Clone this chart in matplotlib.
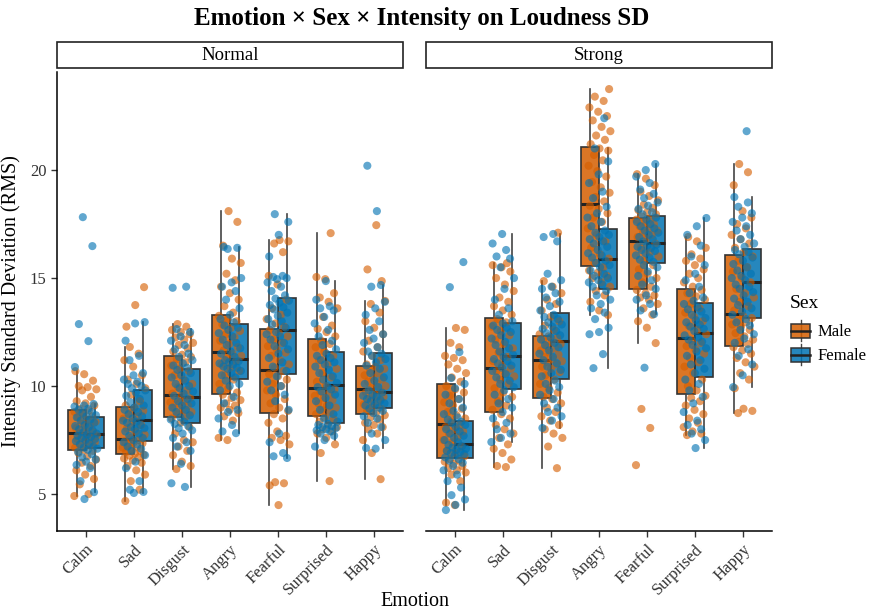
import matplotlib
matplotlib.use('Agg')
import matplotlib.pyplot as plt
import numpy as np
from matplotlib.patches import Rectangle, Patch
from matplotlib.lines import Line2D
from matplotlib.legend_handler import HandlerBase
from matplotlib.colors import to_rgba

plt.rcParams['font.family'] = ['Liberation Serif', 'DejaVu Serif']

emotions = ['Calm', 'Sad', 'Disgust', 'Angry', 'Fearful', 'Surprised', 'Happy']
intensities = ['Normal', 'Strong']
sexes = ['Male', 'Female']
yticks = [5, 10, 15, 20]

# ---- box statistics (per emotion) ----
normal_male_whislo = [4.91, 4.68, 6.16, 7.50, 4.49, 5.60, 5.69]
normal_male_q1     = [7.04, 6.85, 8.56, 9.63, 8.75, 8.61, 8.70]
normal_male_med    = [7.82, 7.55, 9.58, 11.57, 10.74, 9.91, 9.86]
normal_male_q3     = [8.89, 9.03, 11.39, 13.29, 12.64, 12.18, 10.93]
normal_male_whishi = [10.69, 11.81, 12.87, 18.10, 16.76, 17.08, 13.94]

normal_female_whislo = [5.09, 5.05, 5.33, 7.82, 6.67, 7.50, 7.13]
normal_female_q1     = [7.13, 7.45, 8.29, 10.32, 10.56, 8.29, 8.98]
normal_female_med    = [7.78, 8.43, 9.49, 11.25, 12.59, 10.05, 9.72]
normal_female_q3     = [8.56, 9.81, 10.79, 12.87, 14.07, 11.57, 11.53]
normal_female_whishi = [9.17, 12.96, 12.64, 16.44, 17.96, 14.86, 14.68]

strong_male_whislo = [4.49, 6.25, 6.20, 13.29, 11.99, 7.73, 8.75]
strong_male_q1     = [6.67, 8.80, 9.44, 15.56, 14.49, 9.63, 11.85]
strong_male_med    = [8.24, 10.83, 11.20, 18.43, 16.71, 12.22, 13.33]
strong_male_q3     = [10.09, 13.15, 12.31, 21.06, 17.78, 14.49, 16.06]
strong_male_whishi = [12.69, 15.69, 14.86, 23.75, 19.81, 16.90, 20.28]

strong_female_whislo = [4.26, 7.41, 8.06, 10.83, 13.33, 7.13, 9.95]
strong_female_q1     = [6.67, 9.86, 10.32, 14.49, 15.69, 10.42, 13.15]
strong_female_med    = [7.31, 11.39, 12.08, 15.88, 16.62, 12.45, 14.81]
strong_female_q3     = [8.38, 12.92, 13.38, 17.27, 17.87, 13.84, 16.34]
strong_female_whishi = [10.37, 17.04, 17.04, 21.02, 20.28, 17.78, 18.75]

normal_male_calm = [4.91, 5.0, 5.45, 5.7, 5.9, 6.1, 6.3, 6.45, 6.6, 6.75, 6.9, 7.0,
                    7.05, 7.15, 7.25, 7.3, 7.4, 7.45, 7.55, 7.6, 7.65, 7.7, 7.75, 7.8,
                    7.85, 7.95, 8.05, 8.15, 8.25, 8.35, 8.45, 8.55, 8.6, 8.7, 8.8, 8.88,
                    8.95, 9.1, 9.2, 9.3, 9.5, 9.8, 9.85, 9.95, 10.0, 10.25, 10.55, 10.69]
normal_female_calm = [17.82, 16.48, 12.87, 12.08, 10.88, 4.77,
                      5.09, 5.6, 6.2, 6.35, 6.5, 6.6, 6.7, 6.85, 6.95, 7.05, 7.1,
                      7.15, 7.2, 7.3, 7.35, 7.45, 7.5, 7.55, 7.6, 7.65, 7.7, 7.75,
                      7.8, 7.85, 7.95, 8.0, 8.1, 8.15, 8.2, 8.3, 8.4, 8.45, 8.55,
                      8.6, 8.65, 8.75, 8.8, 8.9, 8.95, 9.05, 9.1, 9.17]
normal_male_sad = [4.68, 5.2, 5.6, 5.9, 6.1, 6.3, 6.45, 6.55, 6.65, 6.7, 6.78, 6.82,
                   6.88, 6.95, 7.0, 7.1, 7.15, 7.2, 7.3, 7.35, 7.4, 7.45, 7.5,
                   7.6, 7.75, 7.9, 8.05, 8.2, 8.35, 8.5, 8.6, 8.75, 8.85, 9.0,
                   9.1, 9.3, 9.6, 9.9, 10.1, 10.3, 10.5, 10.9, 11.2, 11.5, 11.81,
                   14.58, 13.75, 12.75]
normal_female_sad = [5.05, 5.1, 5.2, 5.6, 6.2, 6.5, 6.8, 7.0, 7.1, 7.2, 7.3, 7.4,
                     7.5, 7.6, 7.7, 7.8, 7.9, 8.0, 8.05, 8.1, 8.2, 8.3, 8.35, 8.4,
                     8.5, 8.6, 8.7, 8.8, 8.9, 9.0, 9.1, 9.25, 9.4, 9.55, 9.7, 9.8,
                     9.9, 10.0, 10.1, 10.2, 10.3, 10.5, 10.6, 11.2, 11.4, 12.1, 12.9, 12.96]
normal_male_disgust = [6.16, 6.3, 6.5, 6.8, 7.0, 7.2, 7.4, 7.5, 7.8, 8.1, 8.3, 8.5,
                       8.6, 8.7, 8.8, 8.9, 9.0, 9.1, 9.2, 9.25, 9.3, 9.4, 9.45, 9.55,
                       9.65, 9.8, 9.95, 10.1, 10.3, 10.5, 10.7, 10.8, 10.95, 11.1, 11.25, 11.35,
                       11.45, 11.6, 11.75, 11.9, 12.0, 12.15, 12.25, 12.4, 12.5, 12.6, 12.75, 12.87]
normal_female_disgust = [5.33, 5.5, 6.4, 7.0, 7.2, 7.4, 7.6, 7.8, 7.95, 8.05, 8.15, 8.25,
                         8.35, 8.45, 8.55, 8.65, 8.8, 8.9, 9.0, 9.1, 9.2, 9.3, 9.4,
                         9.55, 9.65, 9.75, 9.9, 10.0, 10.1, 10.25, 10.4, 10.5, 10.6, 10.75,
                         10.85, 10.95, 11.05, 11.2, 11.35, 11.5, 11.7, 11.9, 12.1, 12.3, 12.5, 12.64,
                         14.6, 14.55]
normal_male_angry = [7.5, 7.6, 8.4, 8.6, 8.75, 8.9, 9.0, 9.1, 9.2, 9.35, 9.45, 9.6,
                     9.7, 9.9, 10.1, 10.3, 10.5, 10.7, 10.85, 11.0, 11.15, 11.3, 11.4, 11.5,
                     11.65, 11.8, 11.95, 12.1, 12.25, 12.4, 12.55, 12.7, 12.85, 13.0, 13.1, 13.25,
                     13.4, 13.7, 14.0, 14.3, 14.6, 14.9, 15.2, 15.7, 15.9, 16.5, 17.6, 18.1]
normal_female_angry = [7.82, 7.9, 8.2, 8.5, 8.8, 8.9, 9.2, 9.5, 9.8, 10.0, 10.1, 10.25,
                       10.4, 10.5, 10.6, 10.7, 10.8, 10.85, 10.9, 11.0, 11.05, 11.1, 11.15, 11.2,
                       11.35, 11.5, 11.6, 11.75, 11.9, 12.0, 12.15, 12.3, 12.45, 12.6, 12.7, 12.8,
                       12.95, 13.1, 13.3, 13.6, 14.0, 14.4, 14.6, 14.8, 15.0, 16.35, 16.4, 16.44]
normal_male_fearful = [4.49, 5.4, 5.5, 5.55, 7.3, 7.5, 7.6, 7.7, 7.9, 8.3, 8.5, 8.7,
                       8.85, 9.0, 9.2, 9.4, 9.6, 9.8, 10.0, 10.1, 10.3, 10.45, 10.55, 10.7,
                       10.85, 11.0, 11.2, 11.4, 11.55, 11.7, 11.85, 12.0, 12.15, 12.3, 12.45, 12.6,
                       12.75, 12.9, 13.1, 13.3, 13.6, 14.0, 14.7, 15.1, 16.2, 16.6, 16.7, 16.76]
normal_female_fearful = [6.67, 6.75, 6.9, 7.4, 7.8, 8.9, 9.3, 9.6, 9.8, 10.0, 10.2, 10.45,
                         10.7, 10.9, 11.1, 11.3, 11.5, 11.7, 11.85, 12.0, 12.15, 12.3, 12.4, 12.5,
                         12.7, 12.85, 13.0, 13.1, 13.25, 13.4, 13.55, 13.65, 13.75, 13.85, 13.95, 14.05,
                         14.2, 14.4, 14.6, 14.8, 14.95, 15.0, 15.05, 15.1, 16.0, 17.0, 17.6, 17.96]
normal_male_surprised = [5.6, 6.9, 7.3, 7.6, 7.8, 7.9, 8.0, 8.1, 8.2, 8.35, 8.45, 8.55,
                         8.7, 8.8, 8.9, 9.0, 9.1, 9.2, 9.35, 9.45, 9.55, 9.65, 9.75, 9.85,
                         10.0, 10.2, 10.4, 10.6, 10.8, 11.0, 11.2, 11.4, 11.6, 11.8, 11.95, 12.1,
                         12.3, 12.5, 12.65, 12.8, 13.2, 13.6, 13.9, 14.1, 14.3, 14.95, 15.05, 17.08]
normal_female_surprised = [7.2, 7.5, 7.7, 7.8, 7.9, 7.95, 8.0, 8.05, 8.1, 8.15, 8.2, 8.25,
                           8.35, 8.5, 8.7, 8.9, 9.1, 9.3, 9.45, 9.6, 9.75, 9.85, 9.95, 10.0,
                           10.15, 10.3, 10.45, 10.6, 10.75, 10.9, 11.0, 11.1, 11.2, 11.3, 11.4, 11.5,
                           11.7, 11.9, 12.1, 12.3, 12.6, 12.9, 13.2, 13.5, 13.6, 13.7, 14.0, 14.86]
normal_male_happy = [5.69, 6.9, 7.5, 7.8, 8.0, 8.1, 8.2, 8.3, 8.45, 8.55, 8.65,
                     8.75, 8.85, 8.95, 9.05, 9.15, 9.3, 9.4, 9.5, 9.6, 9.7, 9.8,
                     9.9, 10.0, 10.1, 10.2, 10.3, 10.4, 10.5, 10.6, 10.7, 10.8, 10.9,
                     11.0, 11.2, 11.4, 11.6, 11.8, 12.1, 12.4, 12.7, 13.0, 13.4, 13.8, 13.94,
                     17.45, 15.4, 14.86]
normal_female_happy = [7.13, 7.1, 7.5, 7.8, 8.1, 8.3, 8.5, 8.6, 8.75, 8.85, 8.95,
                       9.0, 9.1, 9.15, 9.2, 9.3, 9.35, 9.4, 9.5, 9.55, 9.6, 9.7,
                       9.8, 9.95, 10.1, 10.25, 10.4, 10.6, 10.8, 10.95, 11.1, 11.25, 11.4, 11.5,
                       11.6, 11.8, 12.0, 12.2, 12.4, 12.6, 13.0, 13.3, 13.6, 13.9, 14.6, 14.68,
                       20.2, 18.1]

strong_male_calm = [4.49, 4.6, 5.6, 5.9, 6.0, 6.1, 6.2, 6.3, 6.4, 6.5, 6.55, 6.62,
                    6.75, 6.9, 7.0, 7.2, 7.4, 7.5, 7.65, 7.8, 7.9, 8.0, 8.1, 8.2,
                    8.35, 8.5, 8.65, 8.8, 8.95, 9.1, 9.25, 9.4, 9.55, 9.7, 9.85, 10.0,
                    10.2, 10.4, 10.6, 10.8, 11.0, 11.2, 11.3, 11.4, 11.8, 12.0, 12.6, 12.69]
strong_female_calm = [15.74, 14.58, 11.57,
                      4.26, 4.5, 4.75, 4.95, 5.3, 5.6, 5.9, 6.1, 6.3, 6.45, 6.55, 6.62,
                      6.7, 6.78, 6.85, 6.9, 6.95, 7.0, 7.05, 7.1, 7.15, 7.22, 7.28,
                      7.4, 7.5, 7.6, 7.7, 7.8, 7.9, 8.0, 8.1, 8.2, 8.28, 8.35,
                      8.45, 8.55, 8.7, 8.85, 9.0, 9.2, 9.4, 9.6, 9.9, 10.1, 10.37]
strong_male_sad = [6.25, 6.3, 6.6, 6.9, 7.1, 7.3, 7.6, 7.8, 8.0, 8.2, 8.5, 8.7,
                   8.9, 9.1, 9.3, 9.5, 9.7, 9.9, 10.1, 10.3, 10.45, 10.6, 10.7, 10.8,
                   10.95, 11.15, 11.35, 11.55, 11.75, 11.95, 12.15, 12.35, 12.55, 12.75, 12.95, 13.1,
                   13.3, 13.5, 13.7, 13.9, 14.1, 14.4, 14.7, 15.0, 15.3, 15.5, 15.6, 15.69]
strong_female_sad = [7.41, 7.6, 7.8, 8.0, 8.3, 8.5, 8.8, 9.0, 9.2, 9.4, 9.6, 9.8,
                     9.95, 10.1, 10.25, 10.4, 10.55, 10.7, 10.85, 10.95, 11.05, 11.15, 11.25, 11.35,
                     11.45, 11.6, 11.75, 11.9, 12.05, 12.2, 12.35, 12.5, 12.6, 12.7, 12.8, 12.9,
                     13.0, 13.3, 13.6, 14.0, 14.5, 15.0, 15.5, 15.9, 16.0, 16.3, 16.6, 17.04]
strong_male_disgust = [6.2, 7.2, 7.6, 7.8, 8.0, 8.2, 8.4, 8.6, 8.8, 9.0, 9.2, 9.4,
                       9.5, 9.7, 9.9, 10.1, 10.3, 10.5, 10.65, 10.8, 10.9, 11.0, 11.1, 11.15,
                       11.25, 11.35, 11.45, 11.55, 11.65, 11.75, 11.85, 11.95, 12.05, 12.15, 12.22, 12.3,
                       12.4, 12.6, 12.8, 13.0, 13.2, 13.5, 13.8, 14.0, 14.3, 14.6, 14.86, 17.1]
strong_female_disgust = [8.06, 8.4, 8.6, 8.8, 9.0, 9.2, 9.4, 9.6, 9.8, 9.95, 10.1, 10.25,
                         10.45, 10.6, 10.75, 10.9, 11.05, 11.2, 11.35, 11.5, 11.65, 11.8, 11.9, 12.0,
                         12.15, 12.25, 12.35, 12.45, 12.55, 12.65, 12.75, 12.85, 12.95, 13.1, 13.2, 13.3,
                         13.5, 13.7, 13.9, 14.1, 14.3, 14.5, 14.6, 14.9, 15.2, 16.7, 16.9, 17.04]
strong_male_angry = [13.29, 13.5, 13.9, 14.2, 14.4, 14.6, 14.8, 15.0, 15.1, 15.25, 15.35, 15.5,
                     15.7, 15.9, 16.1, 16.4, 16.7, 17.0, 17.3, 17.6, 17.8, 18.0, 18.2, 18.35,
                     18.55, 18.75, 18.95, 19.2, 19.45, 19.7, 19.95, 20.2, 20.45, 20.7, 20.9, 21.0,
                     21.2, 21.4, 21.6, 21.8, 22.0, 22.3, 22.5, 22.7, 22.9, 23.2, 23.4, 23.75]
strong_female_angry = [10.83, 11.48, 12.4, 12.5, 12.7, 13.1, 13.4, 13.6, 13.8, 14.0, 14.2, 14.4,
                       14.6, 14.7, 14.8, 14.9, 15.0, 15.1, 15.2, 15.35, 15.5, 15.6, 15.7, 15.8,
                       15.95, 16.05, 16.15, 16.3, 16.45, 16.6, 16.7, 16.8, 16.9, 17.0, 17.1, 17.2,
                       17.4, 17.6, 17.8, 18.0, 18.3, 18.7, 19.0, 19.4, 19.8, 20.4, 21.0, 22.4]
strong_male_fearful = [6.34, 8.06, 8.94,
                       11.99, 12.7, 13.0, 13.3, 13.6, 13.8, 14.0, 14.1, 14.2, 14.3, 14.45,
                       14.6, 14.8, 15.0, 15.2, 15.4, 15.6, 15.8, 16.0, 16.2, 16.4, 16.6,
                       16.8, 16.9, 17.0, 17.1, 17.2, 17.3, 17.4, 17.5, 17.6, 17.7, 17.75,
                       17.85, 17.95, 18.05, 18.15, 18.25, 18.4, 18.6, 18.8, 19.0, 19.3, 19.6, 19.81]
strong_female_fearful = [10.85,
                         13.33, 13.5, 13.8, 14.0, 14.2, 14.5, 14.7, 14.9, 15.1, 15.3, 15.5, 15.6,
                         15.75, 15.85, 15.95, 16.05, 16.15, 16.25, 16.3, 16.4, 16.45, 16.5, 16.55,
                         16.7, 16.8, 16.9, 17.0, 17.1, 17.2, 17.3, 17.4, 17.5, 17.6, 17.7, 17.8,
                         17.95, 18.05, 18.2, 18.35, 18.5, 18.7, 18.9, 19.1, 19.4, 19.7, 20.0, 20.28]
strong_male_surprised = [7.73, 7.8, 7.9, 8.1, 8.3, 8.5, 8.7, 8.9, 9.1, 9.3, 9.45, 9.55,
                         9.8, 10.0, 10.3, 10.6, 10.9, 11.1, 11.3, 11.5, 11.7, 11.85, 12.0, 12.1,
                         12.4, 12.6, 12.8, 13.0, 13.2, 13.4, 13.6, 13.8, 14.0, 14.15, 14.3, 14.45,
                         14.6, 14.8, 15.0, 15.2, 15.4, 15.6, 15.8, 15.9, 16.1, 16.4, 16.7, 16.9]
strong_female_surprised = [7.13, 7.5, 7.8, 8.0, 8.2, 8.4, 8.8, 9.2, 9.5, 9.8, 10.1, 10.3,
                           10.6, 10.8, 11.0, 11.2, 11.4, 11.6, 11.75, 11.9, 12.05, 12.15, 12.25, 12.35,
                           12.55, 12.65, 12.75, 12.85, 12.95, 13.05, 13.15, 13.3, 13.45, 13.55, 13.65, 13.8,
                           13.95, 14.1, 14.3, 14.6, 14.9, 15.2, 15.6, 16.0, 16.5, 17.0, 17.4, 17.78]
strong_male_happy = [8.75, 8.85, 8.95, 9.9, 10.3, 10.6, 10.9, 11.1, 11.3, 11.5, 11.65, 11.8,
                     11.95, 12.05, 12.15, 12.3, 12.45, 12.6, 12.75, 12.85, 12.95, 13.05, 13.15, 13.25,
                     13.5, 13.7, 13.9, 14.1, 14.3, 14.5, 14.8, 15.0, 15.3, 15.5, 15.8, 16.0,
                     16.2, 16.4, 16.6, 16.8, 17.0, 17.3, 17.5, 17.8, 18.1, 19.3, 19.9, 20.28]
strong_female_happy = [21.8,
                       9.95, 10.5, 11.0, 11.4, 11.7, 12.0, 12.2, 12.4, 12.6, 12.8, 12.95, 13.1,
                       13.3, 13.45, 13.6, 13.75, 13.9, 14.05, 14.2, 14.35, 14.5, 14.6, 14.7,
                       14.9, 15.0, 15.1, 15.2, 15.35, 15.5, 15.65, 15.8, 15.95, 16.1, 16.2, 16.3,
                       16.45, 16.6, 16.8, 17.0, 17.2, 17.4, 17.6, 17.8, 18.0, 18.3, 18.5, 18.75]

box_stats = {
    ('Normal', 'Male'): (normal_male_whislo, normal_male_q1, normal_male_med, normal_male_q3, normal_male_whishi),
    ('Normal', 'Female'): (normal_female_whislo, normal_female_q1, normal_female_med, normal_female_q3, normal_female_whishi),
    ('Strong', 'Male'): (strong_male_whislo, strong_male_q1, strong_male_med, strong_male_q3, strong_male_whishi),
    ('Strong', 'Female'): (strong_female_whislo, strong_female_q1, strong_female_med, strong_female_q3, strong_female_whishi),
}
points = {
    ('Normal', 'Male'): [normal_male_calm, normal_male_sad, normal_male_disgust, normal_male_angry,
                         normal_male_fearful, normal_male_surprised, normal_male_happy],
    ('Normal', 'Female'): [normal_female_calm, normal_female_sad, normal_female_disgust, normal_female_angry,
                           normal_female_fearful, normal_female_surprised, normal_female_happy],
    ('Strong', 'Male'): [strong_male_calm, strong_male_sad, strong_male_disgust, strong_male_angry,
                         strong_male_fearful, strong_male_surprised, strong_male_happy],
    ('Strong', 'Female'): [strong_female_calm, strong_female_sad, strong_female_disgust, strong_female_angry,
                           strong_female_fearful, strong_female_surprised, strong_female_happy],
}

colors = {'Male': '#D55E00', 'Female': '#0072B2'}
dodge = {'Male': -0.1875, 'Female': 0.1875}
EDGE = '#333333'


def spread(n, phase, step):
    # deterministic horizontal spread (jitter substitute)
    k = np.arange(n)
    return ((k * step + phase) % 1.0) - 0.5


W, H = 870, 612
fig = plt.figure(figsize=(W / 100, H / 100), dpi=100)

panel_left = [57, 426]
panel_w = 346
panel_top, panel_bot = 72, 531

for pi, inten in enumerate(intensities):
    ax = fig.add_axes([panel_left[pi] / W, (H - panel_bot) / H, panel_w / W, (panel_bot - panel_top) / H])
    for si, sex in enumerate(sexes):
        lo, q1, med, q3, hi = box_stats[(inten, sex)]
        stats = [dict(whislo=lo[i], q1=q1[i], med=med[i], q3=q3[i], whishi=hi[i], fliers=[])
                 for i in range(len(emotions))]
        pos = np.arange(len(emotions)) + dodge[sex]
        ax.bxp(stats, positions=pos, widths=0.375, patch_artist=True, showfliers=False,
               showcaps=False, manage_ticks=False,
               boxprops=dict(facecolor=to_rgba(colors[sex], 0.85), edgecolor=EDGE, linewidth=1.2),
               medianprops=dict(color='#222222', linewidth=2.2, solid_capstyle='butt'),
               whiskerprops=dict(color='#444444', linewidth=1.2), zorder=2)
    for si, sex in enumerate(sexes):
        for ei, vals in enumerate(points[(inten, sex)]):
            off = spread(len(vals), 0.13 * ei + 0.37 * si + 0.5 * pi,
                         0.6180339887 if si == 0 else 0.4142135624)
            ax.scatter(ei + off * 0.48, vals, s=34, color=colors[sex], alpha=0.62,
                       edgecolors='none', zorder=3)
    ax.set_xlim(-0.6, 6.6)
    ax.set_ylim(3.29, 24.54)
    ax.set_xticks(range(len(emotions)))
    ax.set_xticklabels(emotions, rotation=45, ha='right', va='top', rotation_mode='anchor',
                       fontsize=12, color='#333333')
    ax.set_yticks(yticks)
    for s in ['top', 'right']:
        ax.spines[s].set_visible(False)
    ax.spines['bottom'].set_linewidth(1.1)
    ax.spines['left'].set_linewidth(1.1)
    ax.tick_params(axis='both', length=4, width=1, color='#333333', labelsize=12,
                   labelcolor='#333333')
    if pi == 0:
        ax.set_yticklabels([str(t) for t in yticks])
        ax.set_ylabel('Intensity Standard Deviation (RMS)', fontsize=14.5, labelpad=6)
    else:
        ax.spines['left'].set_visible(False)
        ax.tick_params(axis='y', left=False, labelleft=False)
    # strip
    sx = panel_left[pi] / W
    strip = Rectangle((sx, (H - 68) / H), panel_w / W, 26 / H, transform=fig.transFigure,
                      facecolor='white', edgecolor='#222222', linewidth=1.2)
    fig.patches.append(strip)
    fig.text(sx + panel_w / W / 2, (H - 55) / H, inten, ha='center', va='center', fontsize=13.5)

fig.text((57 + 772) / 2 / W, (H - 602) / H, 'Emotion', ha='center', va='center', fontsize=14.5)
fig.text(422 / W, (H - 19) / H, 'Emotion × Sex × Intensity on Loudness SD',
         ha='center', va='center', fontsize=18, fontweight='bold')


class BoxKey(HandlerBase):
    def create_artists(self, legend, orig_handle, xdescent, ydescent, width, height, fontsize, trans):
        fc = orig_handle.get_facecolor()
        x0, y0 = -xdescent, -ydescent
        bx0, bw = x0 + width * 0.08, width * 0.84
        by0, bh = y0 + height * 0.12, height * 0.76
        cx = x0 + width / 2
        arts = [
            Line2D([cx, cx], [y0 - height * 0.05, y0 + height * 1.05], color='#444444', lw=1.0, transform=trans),
            Rectangle((bx0, by0), bw, bh, facecolor=fc, edgecolor=EDGE, lw=1.1, transform=trans),
            Line2D([bx0, bx0 + bw], [y0 + height / 2] * 2, color='#222222', lw=1.8, transform=trans),
        ]
        return arts


handles = [Patch(facecolor=to_rgba(colors[s], 0.85), label=s) for s in sexes]
leg = fig.legend(handles=handles, labels=sexes, loc='upper left',
                 bbox_to_anchor=(788 / W, (H - 293) / H), frameon=False, title='Sex',
                 fontsize=12, title_fontsize=14, handler_map={Patch: BoxKey()},
                 handlelength=1.35, handleheight=1.35, handletextpad=0.35, labelspacing=0.3,
                 borderpad=0.1, borderaxespad=0.0)
leg._legend_box.align = 'left'
leg._legend_box.sep = 7

fig.savefig('out.png', dpi=100, facecolor='white')
